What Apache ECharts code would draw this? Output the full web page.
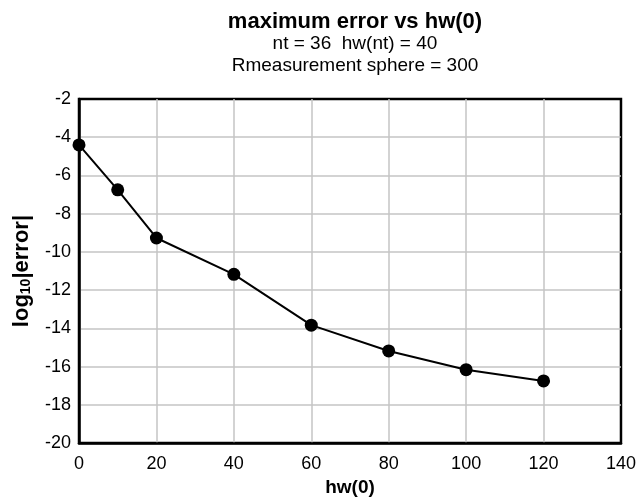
<!DOCTYPE html>
<html>
<head>
<meta charset="utf-8">
<script src="https://cdn.jsdelivr.net/npm/echarts@6/dist/echarts.min.js"></script>
<style>
    html, body { margin: 0; padding: 0; background: #fff; }
    #chart { width: 639px; height: 502px; }
</style>
</head>
<body>
<div id="chart"></div>
<script>
    // hw(0) values and log10 of max error
    var hw0 = [0, 10, 20, 40, 60, 80, 100, 120]
    var logErr = [-4.4, -6.75, -9.27, -11.17, -13.83, -15.18, -16.16, -16.75]

    var titleText = 'maximum error vs hw(0)'
    var subLines = ['nt = 36  hw(nt) = 40', 'Rmeasurement sphere = 300']

    var font = '"Liberation Sans", Arial, sans-serif'
    var myChart = echarts.init(document.getElementById('chart'), null, { renderer: 'canvas' })

    var points = hw0.map(function (x, i) { return [x, logErr[i]] })

    // gray grid lines, end lines left off so the black frame stays black
    var gridLine = {
        show: true,
        showMinLine: false,
        showMaxLine: false,
        lineStyle: { color: '#c4c4c4', width: 1.5 }
    }

    var option = {
        animation: false,
        backgroundColor: '#fff',
        title: {
            text: titleText,
            subtext: subLines.join('\n'),
            left: 350,
            top: 6,
            textAlign: 'center',
            itemGap: 0,
            textStyle: { fontFamily: font, fontSize: 22, fontWeight: 'bold', color: '#000', lineHeight: 22 },
            subtextStyle: { fontFamily: font, fontSize: 19, color: '#000', lineHeight: 22 }
        },
        grid: {
            left: 79,
            top: 99,
            width: 542,
            height: 352,
            show: true,
            borderColor: '#000',
            borderWidth: 2.5,
            containLabel: false
        },
        xAxis: {
            type: 'value',
            min: 0,
            max: 140,
            interval: 20,
            name: 'hw(0)',
            nameLocation: 'middle',
            nameGap: 33,
            nameTextStyle: { fontFamily: font, fontSize: 19, fontWeight: 'bold', color: '#000' },
            axisLine: { show: true, lineStyle: { color: '#000', width: 2.5 } },
            axisTick: { show: false },
            axisLabel: { fontFamily: font, fontSize: 18, color: '#000', margin: 12 },
            splitLine: gridLine
        },
        yAxis: {
            type: 'value',
            min: -20,
            max: -2,
            interval: 2,
            name: 'log{sub|10}|error|',
            nameLocation: 'middle',
            nameRotate: 90,
            nameGap: 46,
            nameTextStyle: {
                fontFamily: font, fontSize: 22, fontWeight: 'bold', color: '#000',
                rich: {
                    sub: { fontFamily: font, fontSize: 14, fontWeight: 'bold', color: '#000', verticalAlign: 'bottom', padding: [8, 0, 0, 0] }
                }
            },
            axisLine: { show: true, lineStyle: { color: '#000', width: 2.5 } },
            axisTick: { show: false },
            axisLabel: { fontFamily: font, fontSize: 18, color: '#000', margin: 8 },
            splitLine: gridLine
        },
        series: [{
            type: 'line',
            data: points,
            symbol: 'circle',
            symbolSize: 13,
            itemStyle: { color: '#000' },
            lineStyle: { color: '#000', width: 2 }
        }]
    }

    myChart.setOption(option)
</script>
</body>
</html>
